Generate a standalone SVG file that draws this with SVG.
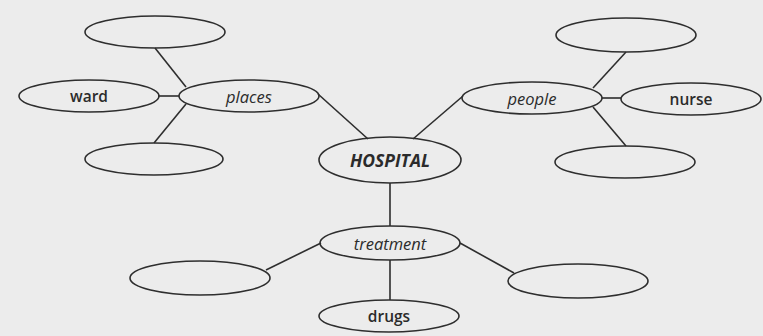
<svg xmlns="http://www.w3.org/2000/svg" width="763" height="336" viewBox="0 0 763 336">
<style>
.n{fill:none;stroke:#2e2e2e;stroke-width:1.6}
.c line{stroke:#2e2e2e;stroke-width:1.6}
text{font-family:"Open Sans","Liberation Sans",sans-serif;font-size:15.5px;fill:#2b2b2b;text-anchor:middle;dominant-baseline:central}
.i{font-style:italic;font-size:16.5px;font-weight:500}
.b{font-style:italic;font-weight:bold;font-size:17.5px}
.m{font-weight:600}
</style>
<rect width="763" height="336" fill="#ececec"/>
<g class="c">
<line x1="155" y1="48" x2="186" y2="87"/>
<line x1="158" y1="96" x2="179" y2="96"/>
<line x1="154" y1="143" x2="186" y2="104"/>
<line x1="318" y1="94" x2="368" y2="139"/>
<line x1="463" y1="96" x2="413" y2="139"/>
<line x1="626" y1="52" x2="593" y2="88"/>
<line x1="602" y1="98" x2="621" y2="98"/>
<line x1="626" y1="146" x2="593" y2="107"/>
<line x1="390" y1="183" x2="390" y2="226"/>
<line x1="321" y1="243" x2="266" y2="270"/>
<line x1="460" y1="243" x2="514" y2="273"/>
<line x1="390" y1="260" x2="390" y2="300"/>
</g>
<g id="tl"><ellipse class="n" cx="155" cy="32" rx="70" ry="16"/></g>
<g id="ward"><ellipse class="n" cx="89" cy="96" rx="70" ry="16"/><text class="m" x="89" y="96">ward</text></g>
<g id="places"><ellipse class="n" cx="249" cy="96" rx="70" ry="16"/><text class="i" x="249" y="96">places</text></g>
<g id="bl"><ellipse class="n" cx="154" cy="159" rx="69" ry="16"/></g>
<g id="hospital"><ellipse class="n" cx="390" cy="160" rx="71" ry="23"/><text class="b" x="390" y="160">HOSPITAL</text></g>
<g id="people"><ellipse class="n" cx="532" cy="98" rx="70" ry="16"/><text class="i" x="532" y="98">people</text></g>
<g id="tr"><ellipse class="n" cx="626" cy="35" rx="70" ry="17"/></g>
<g id="nurse"><ellipse class="n" cx="691" cy="99" rx="70" ry="16"/><text class="m" x="691" y="99">nurse</text></g>
<g id="br"><ellipse class="n" cx="625" cy="162" rx="70" ry="16"/></g>
<g id="treatment"><ellipse class="n" cx="390" cy="243" rx="70" ry="17"/><text class="i" x="390" y="243">treatment</text></g>
<g id="tleft"><ellipse class="n" cx="200" cy="278" rx="70" ry="17"/></g>
<g id="tright"><ellipse class="n" cx="578" cy="281" rx="70" ry="17"/></g>
<g id="drugs"><ellipse class="n" cx="389" cy="316" rx="70" ry="16"/><text class="m" x="389" y="316">drugs</text></g>
</svg>
